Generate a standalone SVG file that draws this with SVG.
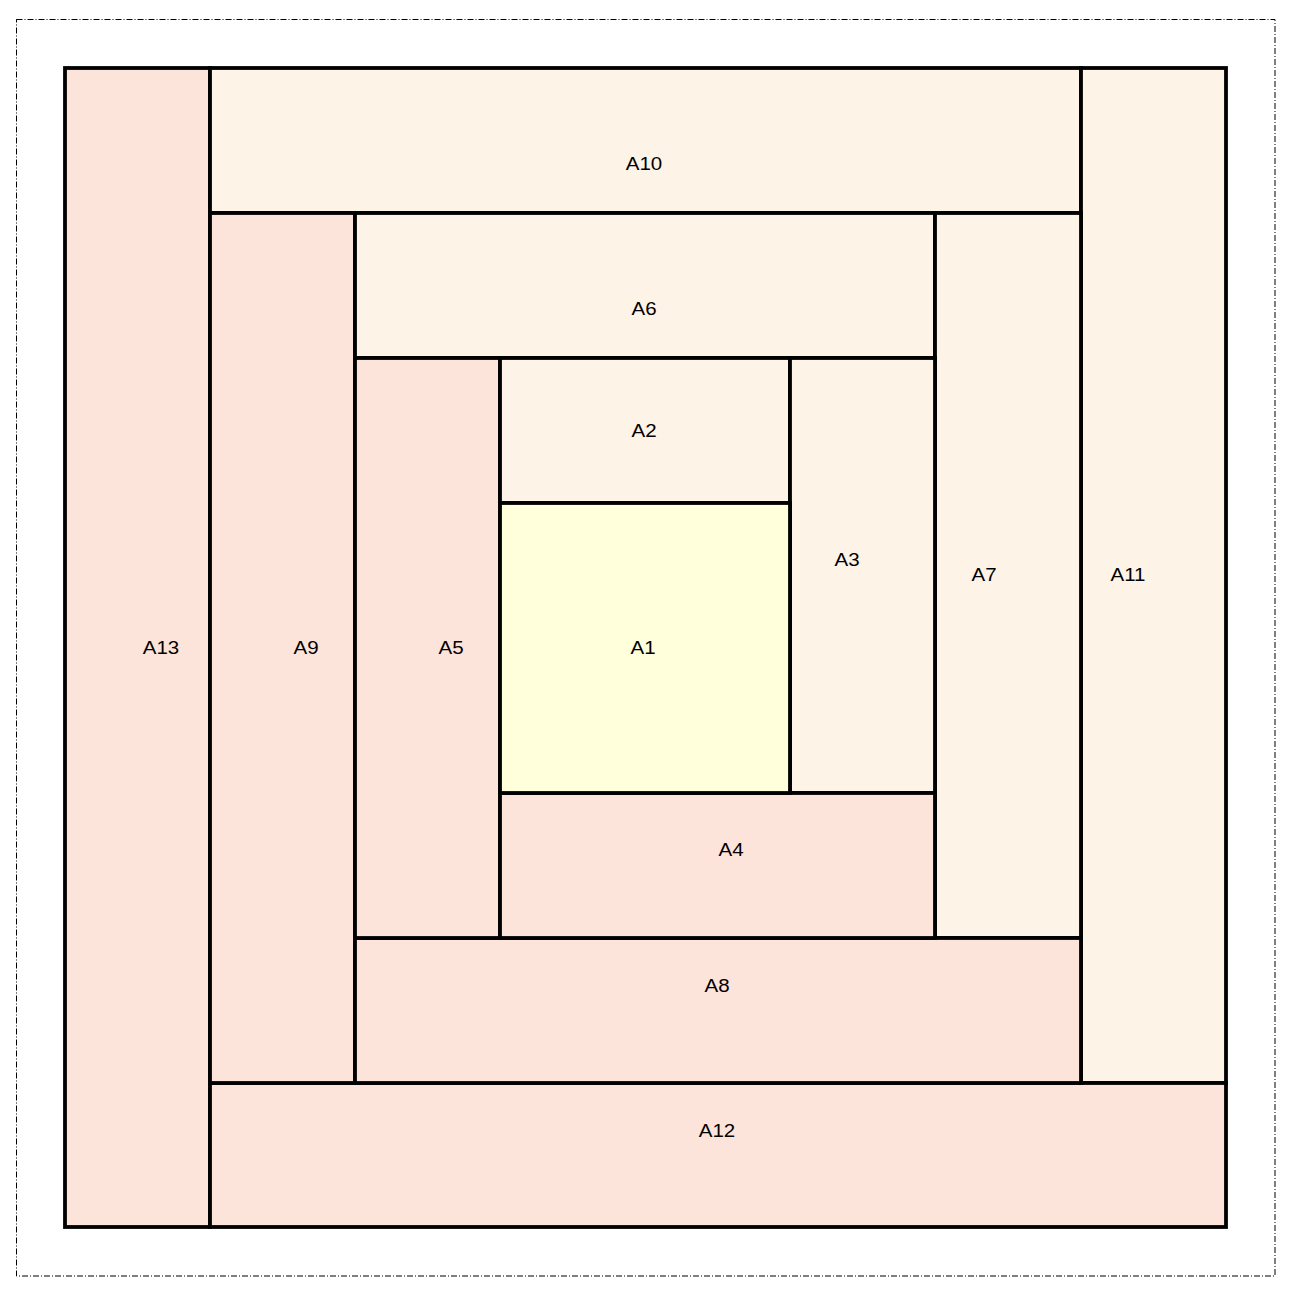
<svg xmlns="http://www.w3.org/2000/svg" width="1293" height="1289" viewBox="0 0 1293 1289">
<style>
.p{fill:#FDE4DA;stroke:#000;stroke-width:3.8}
.c{fill:#FEF3E7;stroke:#000;stroke-width:3.8}
.y{fill:#FFFFDC;stroke:#000;stroke-width:3.8}
text{font-family:"Liberation Sans",Arial,sans-serif;font-size:19px;fill:#000;text-anchor:middle}
</style>
<rect width="1293" height="1289" fill="#fff"/>
<rect x="16.5" y="19.5" width="1258.5" height="1256.5" fill="none" stroke="#000" stroke-width="1" stroke-dasharray="6,2,1,2"/>
<g id="A13"><rect class="p" x="65" y="68" width="145" height="1159"/><text transform="translate(161 654) scale(1.08 1)">A13</text></g>
<g id="A10"><rect class="c" x="210" y="68" width="871" height="145"/><text transform="translate(644 170) scale(1.08 1)">A10</text></g>
<g id="A11"><rect class="c" x="1081" y="68" width="145" height="1015"/><text transform="translate(1128 581) scale(1.08 1)">A11</text></g>
<g id="A12"><rect class="p" x="210" y="1083" width="1016" height="144"/><text transform="translate(717 1137) scale(1.08 1)">A12</text></g>
<g id="A9"><rect class="p" x="210" y="213" width="145" height="870"/><text transform="translate(306 654) scale(1.08 1)">A9</text></g>
<g id="A6"><rect class="c" x="355" y="213" width="580" height="145"/><text transform="translate(644 315) scale(1.08 1)">A6</text></g>
<g id="A7"><rect class="c" x="935" y="213" width="146" height="725"/><text transform="translate(984 581) scale(1.08 1)">A7</text></g>
<g id="A8"><rect class="p" x="355" y="938" width="726" height="145"/><text transform="translate(717 992) scale(1.08 1)">A8</text></g>
<g id="A5"><rect class="p" x="355" y="358" width="145" height="580"/><text transform="translate(451 654) scale(1.08 1)">A5</text></g>
<g id="A2"><rect class="c" x="500" y="358" width="290" height="145"/><text transform="translate(644 437) scale(1.08 1)">A2</text></g>
<g id="A3"><rect class="c" x="790" y="358" width="145" height="435"/><text transform="translate(847 566) scale(1.08 1)">A3</text></g>
<g id="A4"><rect class="p" x="500" y="793" width="435" height="145"/><text transform="translate(731 856) scale(1.08 1)">A4</text></g>
<g id="A1"><rect class="y" x="500" y="503" width="290" height="290"/><text transform="translate(643 654) scale(1.08 1)">A1</text></g>
<g id="connectors"></g>
</svg>
